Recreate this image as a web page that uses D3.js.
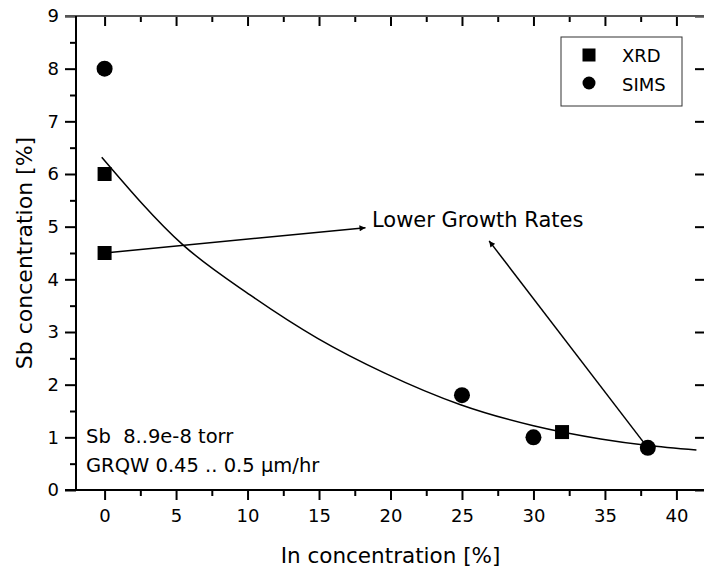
<!DOCTYPE html>
<html>
<head>
<meta charset="utf-8">
<script src="https://cdn.jsdelivr.net/npm/d3@7"></script>
<style>
    body { margin: 0; background: #fff; }
    text { font-family: "DejaVu Sans", sans-serif; fill: #000; white-space: pre; }
</style>
</head>
<body>
<div id="chart"></div>
<script>
var w = 704;
var h = 574;

//measured values
var xrdX = [0, 0, 32];
var xrdY = [6.0, 4.5, 1.1];
var simsX = [0, 25, 30, 38];
var simsY = [8.0, 1.8, 1.0, 0.8];
//fit curve
var fitX = [-0.2, 5.5, 10.2, 14.9, 19.6, 24.9, 30, 34.7, 37.9, 41.4];
var fitY = [6.32, 4.65, 3.70, 2.88, 2.22, 1.62, 1.22, 0.97, 0.85, 0.76];
//annotation arrows [x1, y1, x2, y2] in data units
var arrows = [[0, 4.5, 18.25, 4.98], [38, 0.8, 26.9, 4.73]];
var xTicks = [0, 5, 10, 15, 20, 25, 30, 35, 40];
var yTicks = [0, 1, 2, 3, 4, 5, 6, 7, 8, 9];
var legendNames = ["XRD", "SIMS"];

var plotLeft = 76, plotRight = 705, plotTop = 16, plotBottom = 490;

var x = d3.scaleLinear().domain([-2, 42]).range([plotLeft, plotRight]);
var y = d3.scaleLinear().domain([0, 9]).range([plotBottom, plotTop]);

var svg = d3.select("#chart")
    .append("svg")
    .attr("width", w)
    .attr("height", h);

svg.append("defs").append("marker")
    .attr("id", "head")
    .attr("viewBox", "0 0 10 10")
    .attr("refX", 10)
    .attr("refY", 5)
    .attr("markerWidth", 9)
    .attr("markerHeight", 6)
    .attr("markerUnits", "userSpaceOnUse")
    .attr("orient", "auto")
    .append("path")
    .attr("d", "M0,0L10,5L0,10Z")
    .attr("fill", "#000");

var minorX = d3.range(-2.5, 42.1, 2.5).filter(function (d) { return d % 5 !== 0 && d > -2; });
var minorY = d3.range(0.5, 9, 1);

function styleAxis(g) {
    g.select(".domain").remove();
    g.selectAll("line").attr("stroke", "#000").attr("stroke-width", 2);
    g.selectAll("text").style("font-size", "18px").attr("fill", "#000");
}

//bottom axis
svg.append("g").attr("transform", "translate(0," + plotBottom + ")")
    .call(d3.axisBottom(x).tickValues(xTicks).tickSize(10).tickPadding(9).tickFormat(d3.format("d")))
    .call(styleAxis);
svg.append("g").attr("transform", "translate(0," + plotBottom + ")")
    .call(d3.axisBottom(x).tickValues(minorX).tickSize(6).tickFormat(""))
    .call(styleAxis);
//top axis, ticks inward
svg.append("g").attr("transform", "translate(0," + plotTop + ")")
    .call(d3.axisBottom(x).tickValues(xTicks).tickSize(10).tickFormat(""))
    .call(styleAxis);
svg.append("g").attr("transform", "translate(0," + plotTop + ")")
    .call(d3.axisBottom(x).tickValues(minorX).tickSize(6).tickFormat(""))
    .call(styleAxis);
//left axis
svg.append("g").attr("transform", "translate(" + plotLeft + ",0)")
    .call(d3.axisLeft(y).tickValues(yTicks).tickSize(11).tickPadding(6).tickFormat(d3.format("d")))
    .call(styleAxis);
svg.append("g").attr("transform", "translate(" + plotLeft + ",0)")
    .call(d3.axisLeft(y).tickValues(minorY).tickSize(6).tickFormat(""))
    .call(styleAxis);
//right axis, ticks inward
svg.append("g").attr("transform", "translate(" + plotRight + ",0)")
    .call(d3.axisLeft(y).tickValues(yTicks).tickSize(10).tickFormat(""))
    .call(styleAxis);

//axis lines
svg.append("line").attr("x1", plotLeft - 11).attr("x2", w).attr("y1", plotBottom).attr("y2", plotBottom)
    .attr("stroke", "#000").attr("stroke-width", 2);
svg.append("line").attr("x1", plotLeft - 11).attr("x2", w).attr("y1", plotTop).attr("y2", plotTop)
    .attr("stroke", "#555").attr("stroke-width", 2);
svg.append("line").attr("x1", plotLeft).attr("x2", plotLeft).attr("y1", plotTop).attr("y2", plotBottom)
    .attr("stroke", "#000").attr("stroke-width", 2);
svg.append("line").attr("x1", plotRight).attr("x2", plotRight).attr("y1", plotTop).attr("y2", plotBottom)
    .attr("stroke", "#000").attr("stroke-width", 2);

//axis titles
svg.append("text")
    .attr("x", (plotLeft + plotRight) / 2)
    .attr("y", 563)
    .attr("text-anchor", "middle")
    .style("font-size", "21.5px")
    .text("In concentration [%]");
svg.append("text")
    .attr("transform", "translate(32," + ((plotTop + plotBottom) / 2) + ") rotate(-90)")
    .attr("text-anchor", "middle")
    .style("font-size", "22px")
    .text("Sb concentration [%]");

//fit curve
var fitData = fitX.map(function (d, i) { return [d, fitY[i]]; });
svg.append("path")
    .datum(fitData)
    .attr("fill", "none")
    .attr("stroke", "#000")
    .attr("stroke-width", 1.5)
    .attr("d", d3.line()
        .x(function (d) { return x(d[0]); })
        .y(function (d) { return y(d[1]); })
        .curve(d3.curveMonotoneX));

//arrows
svg.selectAll(".arrow")
    .data(arrows)
    .enter()
    .append("line")
    .attr("class", "arrow")
    .attr("x1", function (d) { return x(d[0]); })
    .attr("y1", function (d) { return y(d[1]); })
    .attr("x2", function (d) { return x(d[2]); })
    .attr("y2", function (d) { return y(d[3]); })
    .attr("stroke", "#000")
    .attr("stroke-width", 1.5)
    .attr("marker-end", "url(#head)");

//XRD squares
var sq = 14;
svg.selectAll(".xrd")
    .data(xrdX)
    .enter()
    .append("rect")
    .attr("class", "xrd")
    .attr("x", function (d) { return x(d) - sq / 2; })
    .attr("y", function (d, i) { return y(xrdY[i]) - sq / 2; })
    .attr("width", sq)
    .attr("height", sq)
    .attr("fill", "#000");

//SIMS circles
svg.selectAll(".sims")
    .data(simsX)
    .enter()
    .append("circle")
    .attr("class", "sims")
    .attr("cx", function (d) { return x(d); })
    .attr("cy", function (d, i) { return y(simsY[i]); })
    .attr("r", 8)
    .attr("fill", "#000");

//annotations
svg.append("text")
    .attr("x", 372)
    .attr("y", 227)
    .style("font-size", "21px")
    .text("Lower Growth Rates");
svg.append("text")
    .attr("x", 86)
    .attr("y", 443)
    .style("font-size", "19.5px")
    .text("Sb  8..9e-8 torr");
svg.append("text")
    .attr("x", 86)
    .attr("y", 472)
    .style("font-size", "19.5px")
    .text("GRQW 0.45 .. 0.5 \u00b5m/hr");

//legend
var legend = svg.append("g");
legend.append("rect")
    .attr("x", 561)
    .attr("y", 37)
    .attr("width", 121)
    .attr("height", 69)
    .attr("fill", "#fff")
    .attr("stroke", "#333")
    .attr("stroke-width", 1);
legend.append("rect")
    .attr("x", 589 - 6.5).attr("y", 55 - 6.5)
    .attr("width", 13).attr("height", 13)
    .attr("fill", "#000");
legend.append("circle")
    .attr("cx", 589).attr("cy", 83).attr("r", 6.5)
    .attr("fill", "#000");
legend.selectAll(".legtext")
    .data(legendNames)
    .enter()
    .append("text")
    .attr("class", "legtext")
    .attr("x", 622)
    .attr("y", function (d, i) { return 62 + i * 29; })
    .style("font-size", "18px")
    .text(function (d) { return d; });
</script>
</body>
</html>
